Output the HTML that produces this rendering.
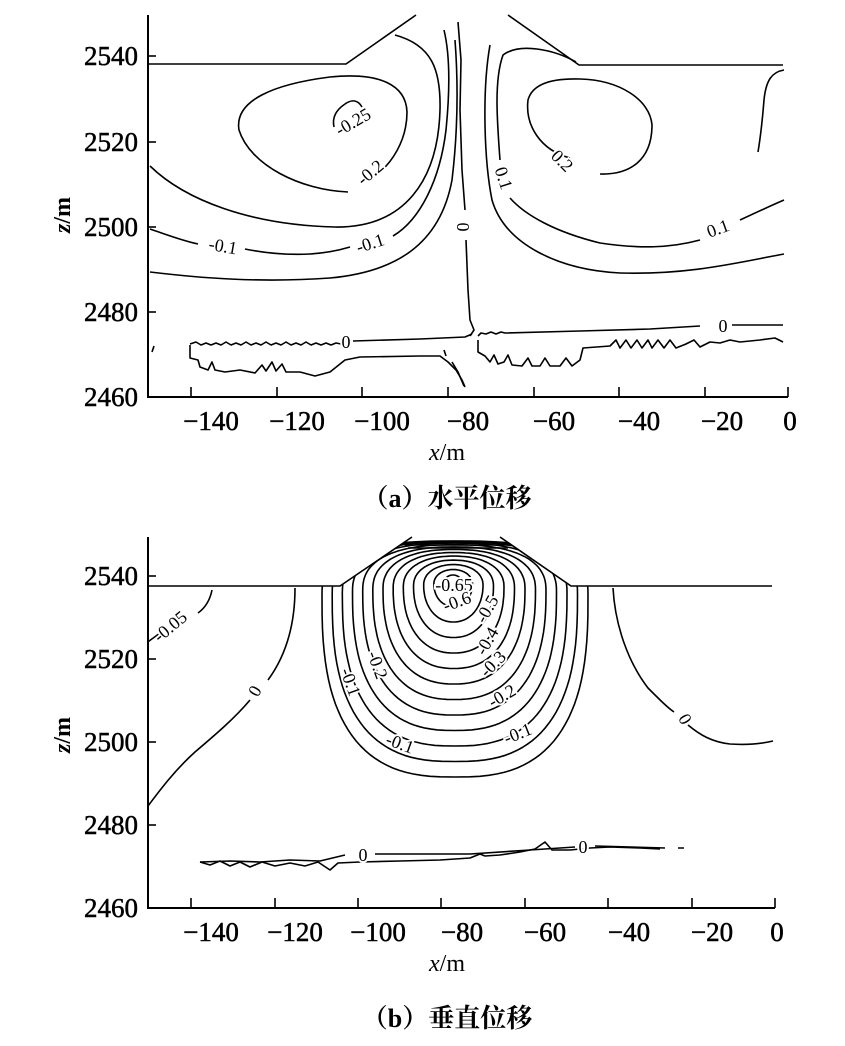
<!DOCTYPE html>
<html><head><meta charset="utf-8"><style>
html,body{margin:0;padding:0;background:#fff;}
svg{display:block;}
text{font-family:"Liberation Serif","Noto Serif CJK SC",serif;fill:#000;}
.tk{font-size:27px;stroke:#000;stroke-width:0.5px;}
.lb{font-size:18px;paint-order:stroke;stroke:#fff;stroke-width:4px;}
.c{fill:none;stroke:#000;stroke-width:1.6;stroke-linejoin:round;}
</style></head><body>
<svg id="s" width="845" height="1046" viewBox="0 0 845 1046" xmlns="http://www.w3.org/2000/svg">
<defs>
<clipPath id="cb"><polygon points="148,586 340,586 412,537 500,537 571,586 775,586 775,908 148,908"/></clipPath>
</defs>
<!-- ===== Panel a ===== -->
<g>
<path d="M148,15 V397 H788" fill="none" stroke="#000" stroke-width="2"/>
<g stroke="#000" stroke-width="1.6">
<line x1="148" y1="56" x2="156" y2="56"/><line x1="148" y1="142" x2="156" y2="142"/><line x1="148" y1="227" x2="156" y2="227"/><line x1="148" y1="312" x2="156" y2="312"/>
<line x1="191" y1="397" x2="191" y2="387"/><line x1="277" y1="397" x2="277" y2="387"/><line x1="362" y1="397" x2="362" y2="387"/><line x1="448" y1="397" x2="448" y2="387"/><line x1="534" y1="397" x2="534" y2="387"/><line x1="619" y1="397" x2="619" y2="387"/><line x1="705" y1="397" x2="705" y2="387"/><line x1="788" y1="397" x2="788" y2="387"/>
</g>
<g class="tk" text-anchor="end">
<text x="138" y="65">2540</text><text x="138" y="151">2520</text><text x="138" y="236">2500</text><text x="138" y="321">2480</text><text x="138" y="406">2460</text>
</g>
<g class="tk" text-anchor="middle">
<text x="211" y="430">−140</text><text x="297" y="430">−120</text><text x="382" y="430">−100</text><text x="468" y="430">−80</text><text x="554" y="430">−60</text><text x="639" y="430">−40</text><text x="722" y="430">−20</text><text x="790" y="430">0</text>
</g>
<text x="447" y="460" text-anchor="middle" font-size="24"><tspan font-style="italic">x</tspan>/m</text>
<text transform="translate(70,215) rotate(-90)" text-anchor="middle" font-size="24" font-weight="bold"><tspan font-style="italic">z</tspan>/m</text>
<text x="447" y="507" text-anchor="middle" font-size="26" font-weight="bold">（a）水平位移</text>

<path class="c" d="M148,64 H346 L416,15 M508,15 L579,65 H783"/>
<path class="c" d="M458,22 L461,60 L460,110 L462,170 L465,210 M466,240 L468,290 L470,320 L474,330 L470,336"/>
<path class="c" d="M444,350 L446,356 M452,362 L458,372 L464,386"/>
<path class="c" d="M334,127 C332,118 336,110 345,104 C352,99 358,100 362,107"/>
<path class="c" d="M348,192 C300,190 250,165 239,130 C234,100 275,84 330,77 C380,72 406,85 407,112 C407,140 392,165 372,178"/>
<path class="c" d="M150,166 C185,200 250,225 335,227 C405,228 438,180 440,110 C441,70 432,45 395,35"/>
<path class="c" d="M150,229 C165,234 180,240 198,244 M245,249 C270,254 290,255 310,254 C325,253 340,250 350,247 M393,236 C420,220 440,180 446,130 C450,90 450,55 444,30"/>
<path class="c" d="M150,272 C200,278 260,283 330,278 C395,272 440,245 452,180 C458,130 458,80 455,40"/>
<path class="c" d="M576,62 C555,50 520,42 503,55 C494,80 497,120 500,160"/>
<path class="c" d="M510,198 C525,215 555,232 600,243 C640,249 670,248 700,240 M740,220 C755,213 770,206 784,200"/>
<path class="c" d="M490,45 C482,90 484,160 492,200 C505,245 560,270 620,273 C690,275 740,262 784,254"/>
<path class="c" d="M570,158 C540,150 525,125 528,100 C532,85 550,78 580,79 C620,80 650,100 652,125 C652,160 630,175 600,174"/>
<path class="c" d="M784,70 C772,72 766,80 764,100 C762,125 760,140 758,152"/>
<path class="c" d="M190,344 l6,-2 l5,3 l5,-2 l5,2 l5,-2 l5,2 l5,-3 l5,3 l5,-2 l5,2 l5,-3 l5,3 l5,-2 l5,2 l5,-3 l5,3 l5,-2 l5,2 l5,-3 l5,3 l5,-2 l5,2 l5,-3 l5,3 l5,-2 l5,2 l5,-2 l5,2 l5,-2 l5,1 M353,341 L420,339 L465,337 L472,334"/>
<path class="c" d="M478,336 l3,-3 l5,1 l5,-2 l5,2 l5,-2 l4,1 L580,331 L650,329 L700,326 M732,325 L783,325"/>
<path class="c" d="M190,345 V358 L198,360 L200,367 L208,370 L212,362 L215,370 L225,372 L240,370 L255,373 L262,365 L266,371 L272,362 L276,371 L282,364 L286,372 L300,372 L315,376 L330,372 L345,360 L360,357 L420,356 L440,356 L448,362 L456,370 L462,380 L465,387"/>
<path class="c" d="M478,340 V352 L485,356 L490,362 L494,355 L498,364 L504,362 L508,355 L512,365 L522,366 L528,358 L532,366 L540,366 L545,358 L550,366 L560,366 L566,358 L572,366 L580,360 L583,348 L610,346 L616,340 L620,348 L626,340 L631,348 L637,340 L642,348 L648,340 L652,348 L658,340 L664,348 L670,340 L676,348 L686,344 L694,340 L700,347 L710,342 L720,343 L730,340 L740,342 L760,340 L775,338 L783,342"/>
<path class="c" d="M152,352 L154,346" stroke-width="1.5"/>
<g class="lb">
<text transform="translate(356,127) rotate(-30)" text-anchor="middle">-0.25</text>
<text transform="translate(374,177) rotate(-40)" text-anchor="middle">-0.2</text>
<text transform="translate(222,252) rotate(10)" text-anchor="middle">-0.1</text>
<text transform="translate(372,249) rotate(-18)" text-anchor="middle">-0.1</text>
<text transform="translate(457,227) rotate(90)" text-anchor="middle">0</text>
<text transform="translate(558,165) rotate(45)" text-anchor="middle">0.2</text>
<text transform="translate(498,180) rotate(72)" text-anchor="middle">0.1</text>
<text transform="translate(720,234) rotate(-20)" text-anchor="middle">0.1</text>
<text x="346" y="348" text-anchor="middle">0</text>
<text x="723" y="332" text-anchor="middle">0</text>
</g>
</g>

<!-- ===== Panel b ===== -->
<g>
<path d="M148,537 V908 H775" fill="none" stroke="#000" stroke-width="2"/>
<g stroke="#000" stroke-width="1.6">
<line x1="148" y1="576" x2="156" y2="576"/><line x1="148" y1="659" x2="156" y2="659"/><line x1="148" y1="742" x2="156" y2="742"/><line x1="148" y1="825" x2="156" y2="825"/>
<line x1="191" y1="908" x2="191" y2="898"/><line x1="275" y1="908" x2="275" y2="898"/><line x1="358" y1="908" x2="358" y2="898"/><line x1="441" y1="908" x2="441" y2="898"/><line x1="525" y1="908" x2="525" y2="898"/><line x1="608" y1="908" x2="608" y2="898"/><line x1="692" y1="908" x2="692" y2="898"/><line x1="775" y1="908" x2="775" y2="898"/>
</g>
<g class="tk" text-anchor="end">
<text x="138" y="585">2540</text><text x="138" y="668">2520</text><text x="138" y="751">2500</text><text x="138" y="834">2480</text><text x="138" y="917">2460</text>
</g>
<g class="tk" text-anchor="middle">
<text x="211" y="941">−140</text><text x="295" y="941">−120</text><text x="378" y="941">−100</text><text x="462" y="941">−80</text><text x="545" y="941">−60</text><text x="629" y="941">−40</text><text x="712" y="941">−20</text><text x="777" y="941">0</text>
</g>
<text x="447" y="971" text-anchor="middle" font-size="24"><tspan font-style="italic">x</tspan>/m</text>
<text transform="translate(70,735) rotate(-90)" text-anchor="middle" font-size="24" font-weight="bold"><tspan font-style="italic">z</tspan>/m</text>
<text x="447" y="1027" text-anchor="middle" font-size="26" font-weight="bold">（b）垂直位移</text>

<path class="c" d="M148,586 H340 L412,537 M500,537 L571,586 H772"/>
<g id="rings" clip-path="url(#cb)"></g>
<path class="c" d="M405,545 H510 M408,548 H508 M412,543 H505" stroke-width="1.2"/>
<path class="c" d="M212,590 C210,600 205,608 198,613 M160,633 C155,637 150,640 148,642"/>
<path class="c" d="M295,588 C295,615 290,650 268,680 M250,700 C235,718 215,735 195,752 C175,770 160,790 148,806"/>
<path class="c" d="M613,588 C615,625 628,662 648,688 C660,700 668,708 674,712 M688,725 C700,735 712,742 730,744 C745,745 760,744 773,741"/>
<path class="c" d="M200,862 L230,861 L260,862 L290,860 L320,861 L345,855 M375,854 L470,854 L530,850 L575,847 M595,846 L665,848 M678,848 H684"/>
<path class="c" d="M200,862 L210,865 L220,861 L230,866 L240,862 L250,867 L262,862 L275,866 L290,863 L305,866 L318,862 L330,870 L338,863 L360,862 L400,861 L440,860 L470,858 L480,854 L485,856 L500,855 L520,852 L535,849 L545,842 L552,850 L570,850 L590,848 L610,847 L640,848 L660,849"/>
<g class="lb">
<text x="454" y="591" text-anchor="middle">-0.65</text>
<text transform="translate(459,607) rotate(-20)" text-anchor="middle">-0.6</text>
<text transform="translate(492,612) rotate(-60)" text-anchor="middle">-0.5</text>
<text transform="translate(492,644) rotate(-60)" text-anchor="middle">-0.4</text>
<text transform="translate(497,668) rotate(-45)" text-anchor="middle">-0.3</text>
<text transform="translate(505,701) rotate(-30)" text-anchor="middle">-0.2</text>
<text transform="translate(520,739) rotate(-22)" text-anchor="middle">-0.1</text>
<text transform="translate(398,749) rotate(20)" text-anchor="middle">-0.1</text>
<text transform="translate(372,667) rotate(70)" text-anchor="middle">-0.2</text>
<text transform="translate(345,684) rotate(70)" text-anchor="middle">-0.1</text>
<text transform="translate(260,694) rotate(-60)" text-anchor="middle">0</text>
<text transform="translate(680,722) rotate(60)" text-anchor="middle">0</text>
<text transform="translate(174,631) rotate(-40)" text-anchor="middle">-0.05</text>
<text x="363" y="861" text-anchor="middle">0</text>
<text x="583" y="853" text-anchor="middle">0</text>
</g>
</g>
</svg>
<script>
(function(){
var g=document.getElementById('rings'),NS='http://www.w3.org/2000/svg';
var N=13;
for(var i=0;i<N;i++){
 var t=i/(N-1);
 var cx=455-2*t;
 var w=133*(1-t)+9*t;
 var B=777*(1-t)+591*t;
 var cy=595*(1-t)+583*t;
 var T=541+34*t*t;
 var n=2.7-0.7*t;
 var rb=B-cy, rt=cy-T;
 var pts=[];
 for(var k=0;k<=120;k++){
  var a=k/120*2*Math.PI, c=Math.cos(a), s=Math.sin(a);
  var x=cx+w*Math.sign(c)*Math.pow(Math.abs(c),2/n);
  var r=s>0?rb:rt;
  var y=cy+r*Math.sign(s)*Math.pow(Math.abs(s),2/n);
  pts.push(x.toFixed(1)+','+y.toFixed(1));
 }
 var p=document.createElementNS(NS,'polygon');
 p.setAttribute('points',pts.join(' '));
 p.setAttribute('class','c');
 g.appendChild(p);
}
})();
</script>
</body></html>
